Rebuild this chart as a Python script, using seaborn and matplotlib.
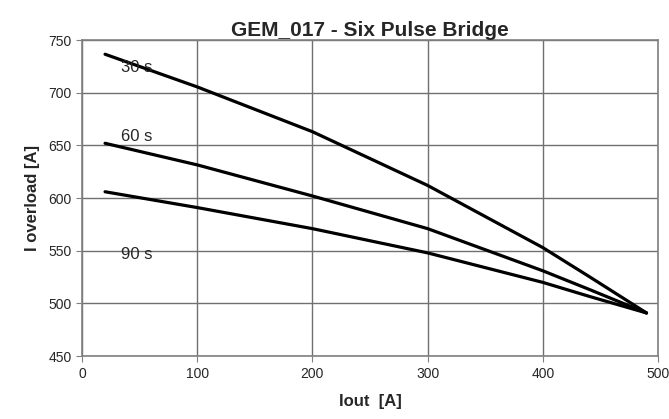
import matplotlib
matplotlib.use("Agg")
import matplotlib.pyplot as plt
import seaborn as sns
import pandas as pd

iout = [20, 100, 200, 300, 400, 441, 490]
i_30s = [736.5, 705.5, 663, 612, 553, 525, 491]
i_60s = [652, 631.5, 602, 571, 531, 513, 491]
i_90s = [606, 591, 571, 548, 520, 506.5, 491]
series_names = ["30 s", "60 s", "90 s"]
label_pos = [(34, 724), (34, 658), (34, 546)]

sns.set_style("white")
plt.rcParams["font.family"] = ["Liberation Sans", "DejaVu Sans"]

df = pd.concat([
    pd.DataFrame({"Iout": iout, "I": vals, "series": name})
    for name, vals in zip(series_names, [i_30s, i_60s, i_90s])
])

fig = plt.figure(figsize=(6.69, 4.19), dpi=100)
ax = fig.add_axes([0.1226, 0.150, 0.861, 0.7545])
sns.lineplot(data=df, x="Iout", y="I", units="series", estimator=None,
             color="black", linewidth=2.3, ax=ax, legend=False)

for name, (lx, ly) in zip(series_names, label_pos):
    ax.text(lx, ly, name, fontsize=12, ha="left", va="center")

ax.set_xlim(0, 500)
ax.set_ylim(450, 750)
ax.set_xticks(range(0, 501, 100))
ax.set_yticks(range(450, 751, 50))
ax.grid(True, color="#707070", linewidth=1)
for s in ax.spines.values():
    s.set_color("#808080")
    s.set_linewidth(1.2)
ax.tick_params(axis="both", which="both", length=4, color="#808080",
               labelsize=10, direction="out", left=True, bottom=True)
ax.set_xlabel("Iout  [A]", fontsize=12, fontweight="bold", labelpad=10)
ax.set_ylabel("I overload [A]", fontsize=12, fontweight="bold", labelpad=6)
ax.set_title("GEM_017 - Six Pulse Bridge", fontsize=15, fontweight="bold", pad=2)

fig.savefig("out.png", dpi=100)
